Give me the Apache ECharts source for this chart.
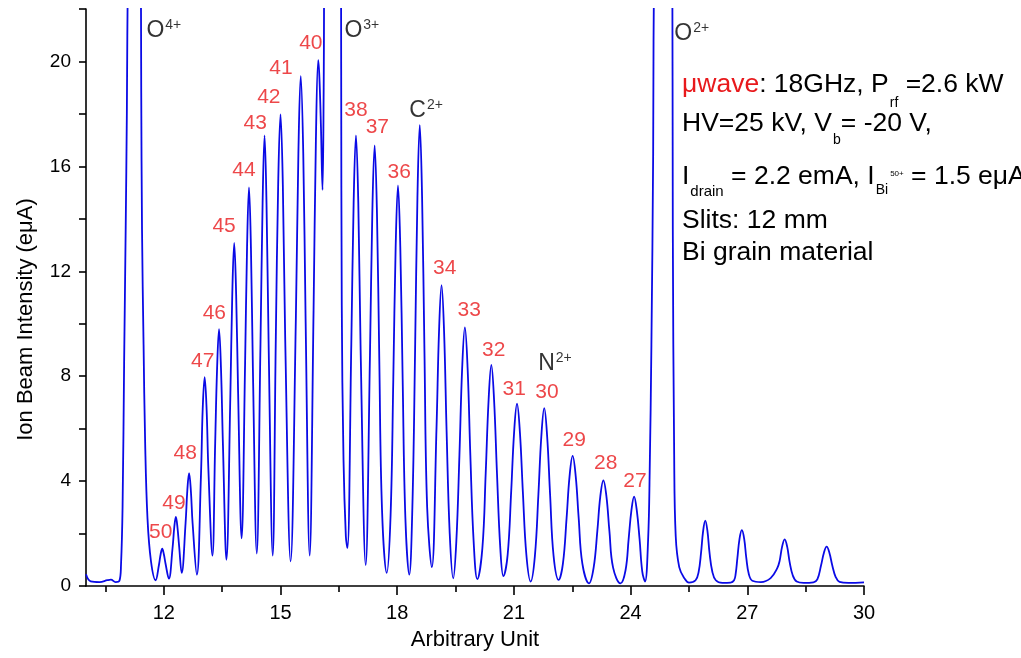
<!DOCTYPE html>
<html>
<head>
<meta charset="utf-8">
<script src="https://cdn.jsdelivr.net/npm/echarts@6.0.0/dist/echarts.min.js"></script>
<style>
  html, body { margin: 0; padding: 0; background: #fff; }
  #chart { width: 1021px; height: 658px; }
</style>
</head>
<body>
<div id="chart"></div>
<script>
// spectrum (arbitrary unit vs ion beam intensity, eµA)
// one row per stretch of the scan, same row layout in both arrays
const arbUnit = [
  10.00, 10.12, 10.35, 10.55, 10.64, 10.76, 10.86,                         // baseline
  10.90, 10.94, 10.98, 11.02, 11.05, 11.08, 11.24, 11.40, 11.42, 11.44,    // O4+
  11.48, 11.52, 11.58, 11.67, 11.79,
  11.875, 11.92, 11.96, 12.00, 12.045, 12.13,                              // 50
  12.225, 12.27, 12.31, 12.35, 12.395, 12.46,                              // 49
  12.56, 12.605, 12.65, 12.695, 12.74, 12.85,                              // 48
  12.955, 13.00, 13.05, 13.10, 13.145, 13.25,                              // 47
  13.32, 13.37, 13.42, 13.47, 13.52, 13.61,                                // 46
  13.71, 13.76, 13.81, 13.86, 13.91, 14.00,                                // 45
  14.09, 14.14, 14.19, 14.24, 14.29, 14.39,                                // 44
  14.485, 14.54, 14.59, 14.64, 14.695, 14.80,                              // 43
  14.88, 14.94, 15.00, 15.06, 15.12, 15.26,                                // 42
  15.395, 15.46, 15.52, 15.585, 15.645, 15.75,                             // 41
  15.85, 15.91, 15.97, 16.00, 16.04, 16.08,                                // 40
  16.11, 16.14, 16.35, 16.55, 16.56, 16.575, 16.62, 16.68, 16.72,          // O3+
  16.82, 16.88, 16.94, 17.00, 17.06, 17.19,                                // 38
  17.30, 17.36, 17.42, 17.48, 17.54, 17.61, 17.73,                         // 37
  17.83, 17.90, 17.96, 18.02, 18.08, 18.14, 18.21, 18.31,                  // 36
  18.39, 18.46, 18.52, 18.58, 18.64, 18.70, 18.77, 18.89,                  // C2+
  19.01, 19.075, 19.14, 19.205, 19.27, 19.35, 19.44,                       // 34
  19.52, 19.60, 19.67, 19.74, 19.81, 19.88, 19.965, 20.06,                 // 33
  20.19, 20.275, 20.35, 20.42, 20.49, 20.565, 20.65, 20.73,                // 32
  20.84, 20.93, 21.005, 21.08, 21.155, 21.23, 21.32, 21.43,                // 31
  21.54, 21.63, 21.705, 21.78, 21.855, 21.93, 22.02, 22.15,                // 30
  22.26, 22.355, 22.43, 22.51, 22.59, 22.665, 22.76, 22.93,                // 29
  23.05, 23.145, 23.22, 23.30, 23.38, 23.455, 23.55, 23.74,                // 28
  23.87, 23.95, 24.02, 24.09, 24.16, 24.23, 24.30, 24.37,                  // 27
  24.45, 24.49, 24.535, 24.58, 24.61, 24.84, 25.07, 25.085, 25.12, 25.16,  // O2+
  25.25, 25.38, 25.50,
  25.67, 25.75, 25.81, 25.865, 25.92, 25.975, 26.03, 26.10, 26.19, 26.36,
  26.57, 26.66, 26.70, 26.745, 26.80, 26.86, 26.92, 26.975, 27.04, 27.13,
  27.35, 27.60, 27.77, 27.83, 27.895, 27.96, 28.025, 28.09, 28.17, 28.27,
  28.45, 28.70, 28.80, 28.895, 28.97, 29.04, 29.11, 29.185, 29.27, 29.37,
  29.60, 30.00
];
const beamCurrent = [
  0.45, 0.18, 0.15, 0.22, 0.24, 0.15, 0.20,
  0.80, 3.0, 8.5, 13.6, 18.0, 24.0, 40.0, 25.0, 18.8, 13.6,
  9.2, 5.5, 2.6, 0.95, 0.22,
  0.80, 1.22, 1.42, 1.22, 0.85, 0.28,
  1.45, 2.25, 2.63, 2.25, 1.50, 0.50,
  2.40, 3.65, 4.30, 3.65, 2.40, 0.43,
  4.20, 6.75, 7.96, 6.75, 4.50, 1.16,
  5.40, 8.30, 9.79, 8.30, 5.40, 1.00,
  7.20, 11.1, 13.08, 11.1, 7.40, 1.82,
  8.50, 12.9, 15.20, 12.9, 8.30, 1.24,
  9.20, 14.6, 17.18, 14.6, 9.20, 1.16,
  9.50, 15.3, 17.98, 15.3, 9.50, 0.94,
  10.2, 16.5, 19.44, 16.5, 10.2, 1.16,
  10.5, 17.0, 20.05, 19.4, 17.5, 15.1,
  19.0, 26.0, 40.0, 25.0, 19.7, 10.7, 4.80, 1.90, 1.45,
  9.20, 14.6, 17.18, 14.6, 9.00, 0.80,
  8.80, 14.2, 16.80, 14.2, 8.60, 2.90, 0.50,
  2.70, 7.90, 12.9, 15.27, 12.9, 7.90, 2.60, 0.43,
  3.00, 9.00, 14.8, 17.57, 14.8, 9.00, 3.00, 0.72,
  6.00, 9.70, 11.47, 9.70, 5.90, 2.00, 0.29,
  1.70, 5.00, 8.30, 9.86, 8.30, 5.00, 1.70, 0.26,
  1.45, 4.30, 7.10, 8.43, 7.10, 4.30, 1.45, 0.38,
  1.20, 3.60, 5.85, 6.95, 5.85, 3.60, 1.20, 0.17,
  1.15, 3.50, 5.70, 6.78, 5.70, 3.50, 1.15, 0.23,
  0.85, 2.60, 4.17, 4.96, 4.17, 2.60, 0.85, 0.10,
  0.70, 2.10, 3.40, 4.03, 3.40, 2.10, 0.70, 0.10,
  0.60, 1.80, 2.87, 3.41, 2.87, 1.80, 0.55, 0.17,
  1.76, 4.30, 9.2, 16.5, 25.0, 40.0, 25.0, 13.6, 5.00, 1.90,
  0.72, 0.30, 0.13,
  0.22, 0.55, 1.25, 2.10, 2.49, 2.10, 1.25, 0.55, 0.22, 0.12,
  0.13, 0.22, 0.45, 1.06, 1.80, 2.13, 1.80, 1.06, 0.45, 0.20,
  0.15, 0.30, 0.68, 0.95, 1.50, 1.78, 1.50, 0.90, 0.40, 0.17,
  0.12, 0.14, 0.25, 0.78, 1.27, 1.50, 1.27, 0.78, 0.35, 0.16,
  0.12, 0.14
];

// Bi charge states marked above the peaks
const chargeStates = ['50', '49', '48', '47', '46', '45', '44', '43', '42', '41', '40',
  '38', '37', '36', '34', '33', '32', '31', '30', '29', '28', '27'];
const chargeX = [11.92, 12.26, 12.55, 13.00, 13.30, 13.55, 14.06, 14.35, 14.70, 15.01, 15.78,
  16.94, 17.49, 18.05, 19.22, 19.85, 20.48, 21.01, 21.85, 22.55, 23.36, 24.11];
const chargeY = [2.04, 3.17, 5.08, 8.59, 10.42, 13.71, 15.86, 17.65, 18.65, 19.73, 20.69,
  18.13, 17.48, 15.79, 12.10, 10.53, 9.00, 7.51, 7.38, 5.55, 4.68, 3.98];

// contaminant peaks
const ionElement = ['O', 'O', 'C', 'N', 'O'];
const ionCharge = ['4+', '3+', '2+', '2+', '2+'];
const ionX = [11.54, 16.63, 18.30, 21.61, 25.11];
const ionY = [21.18, 21.19, 18.16, 8.48, 21.08];

const xLabelValues = [12, 15, 18, 21, 24, 27, 30];
const xMinorValues = [10.5, 13.5, 16.5, 19.5, 22.5, 25.5, 28.5];

const FONT = '"Liberation Sans", Arial, sans-serif';
const BLUE = '#0a0ae6';
const RED = '#e8191c';

const chart = echarts.init(document.getElementById('chart'));

const txt = (fontSize, extra) => Object.assign({
  fontSize: fontSize, fontFamily: FONT, fill: '#000', lineHeight: 30, verticalAlign: 'top'
}, extra || {});

const rich = {
  n: txt(26.5),
  r: txt(26.5, { fill: RED }),
  s1: txt(14, { lineHeight: 14, padding: [25, 0, 0, 1] }),
  s2: txt(14, { lineHeight: 14, padding: [23, 0, 0, 1] }),
  s3: txt(15, { lineHeight: 15, padding: [21, 0, 0, 1] }),
  s4: txt(14, { lineHeight: 14, padding: [20, 0, 0, 1] }),
  p: txt(8, { lineHeight: 8, padding: [7, 0, 0, 2] })
};

const infoLines = [
  '{r|μwave}{n|: 18GHz, P}{s1|rf}{n| =2.6 kW}',
  '{n|HV=25 kV, V}{s2|b}{n|= -20 V,}',
  '{n|I}{s3|drain}{n| = 2.2 emA, I}{s4|Bi}{p|50+}{n| = 1.5 eμA}',
  '{n|Slits: 12 mm}',
  '{n|Bi grain material}'
];
const infoTop = [71, 110, 163, 207, 239];

const option = {
  animation: false,
  backgroundColor: '#fff',
  textStyle: { fontFamily: FONT },
  grid: { left: 86, right: 157, top: 9, bottom: 72 },
  xAxis: [
    {
      type: 'value', min: 10, max: 30, position: 'bottom',
      name: 'Arbitrary Unit', nameLocation: 'middle', nameGap: 43,
      nameTextStyle: { fontSize: 22, color: '#000', fontFamily: FONT },
      axisLine: { lineStyle: { color: '#000', width: 1.6 } },
      axisTick: { customValues: xLabelValues, length: 9, lineStyle: { color: '#000', width: 1.6 } },
      axisLabel: { customValues: xLabelValues, fontSize: 20, color: '#000', margin: 17 },
      splitLine: { show: false }
    },
    {
      type: 'value', min: 10, max: 30, position: 'bottom',
      axisLine: { show: false },
      axisTick: { customValues: xMinorValues, length: 6, lineStyle: { color: '#000', width: 1.6 } },
      axisLabel: { show: false },
      splitLine: { show: false }
    }
  ],
  yAxis: {
    type: 'value', min: 0, max: 22, interval: 2,
    name: 'Ion Beam Intensity (eμA)', nameLocation: 'middle', nameGap: 49,
    nameTextStyle: { fontSize: 22, color: '#000', fontFamily: FONT, padding: [0, 44, 0, 0] },
    axisLine: { show: true, lineStyle: { color: '#000', width: 1.6 } },
    axisTick: { show: true, length: 7, lineStyle: { color: '#000', width: 1.6 } },
    axisLabel: {
      fontSize: 19, color: '#000', margin: 15,
      formatter: v => (v % 4 === 0 ? String(v) : '')
    },
    splitLine: { show: false }
  },
  series: [
    {
      type: 'line',
      data: arbUnit.map((x, i) => [x, beamCurrent[i]]),
      showSymbol: false,
      smooth: 0.4,
      clip: true,
      lineStyle: { color: BLUE, width: 1.8 },
      z: 3
    },
    {
      type: 'scatter',
      silent: true,
      symbolSize: 1,
      itemStyle: { color: 'rgba(0,0,0,0)' },
      data: chargeX.map((x, i) => ({ value: [x, chargeY[i]], name: chargeStates[i] })),
      label: {
        show: true, position: 'inside', formatter: '{b}',
        fontSize: 21, color: RED, fontFamily: FONT
      },
      z: 4
    },
    {
      type: 'scatter',
      silent: true,
      symbolSize: 1,
      itemStyle: { color: 'rgba(0,0,0,0)' },
      data: ionX.map((x, i) => ({ value: [x, ionY[i]], name: ionElement[i] + '|' + ionCharge[i] })),
      label: {
        show: true, position: 'right', distance: 0,
        formatter: p => {
          const parts = p.name.split('|');
          return '{b|' + parts[0] + '}{c|' + parts[1] + '}';
        },
        rich: {
          b: { fontSize: 23, color: '#000', fontFamily: FONT, lineHeight: 24, verticalAlign: 'bottom', padding: [6, 0, 0, 0] },
          c: { fontSize: 14, color: '#000', fontFamily: FONT, lineHeight: 14, verticalAlign: 'top', padding: [0, 0, 0, 1] }
        }
      },
      z: 4
    }
  ],
  graphic: infoLines.map((t, i) => ({
    type: 'text',
    x: 682,
    y: infoTop[i],
    style: { text: t, rich: rich, font: '26.5px ' + FONT, fill: '#000', verticalAlign: 'top', align: 'left' }
  }))
};

chart.setOption(option);
</script>
</body>
</html>
